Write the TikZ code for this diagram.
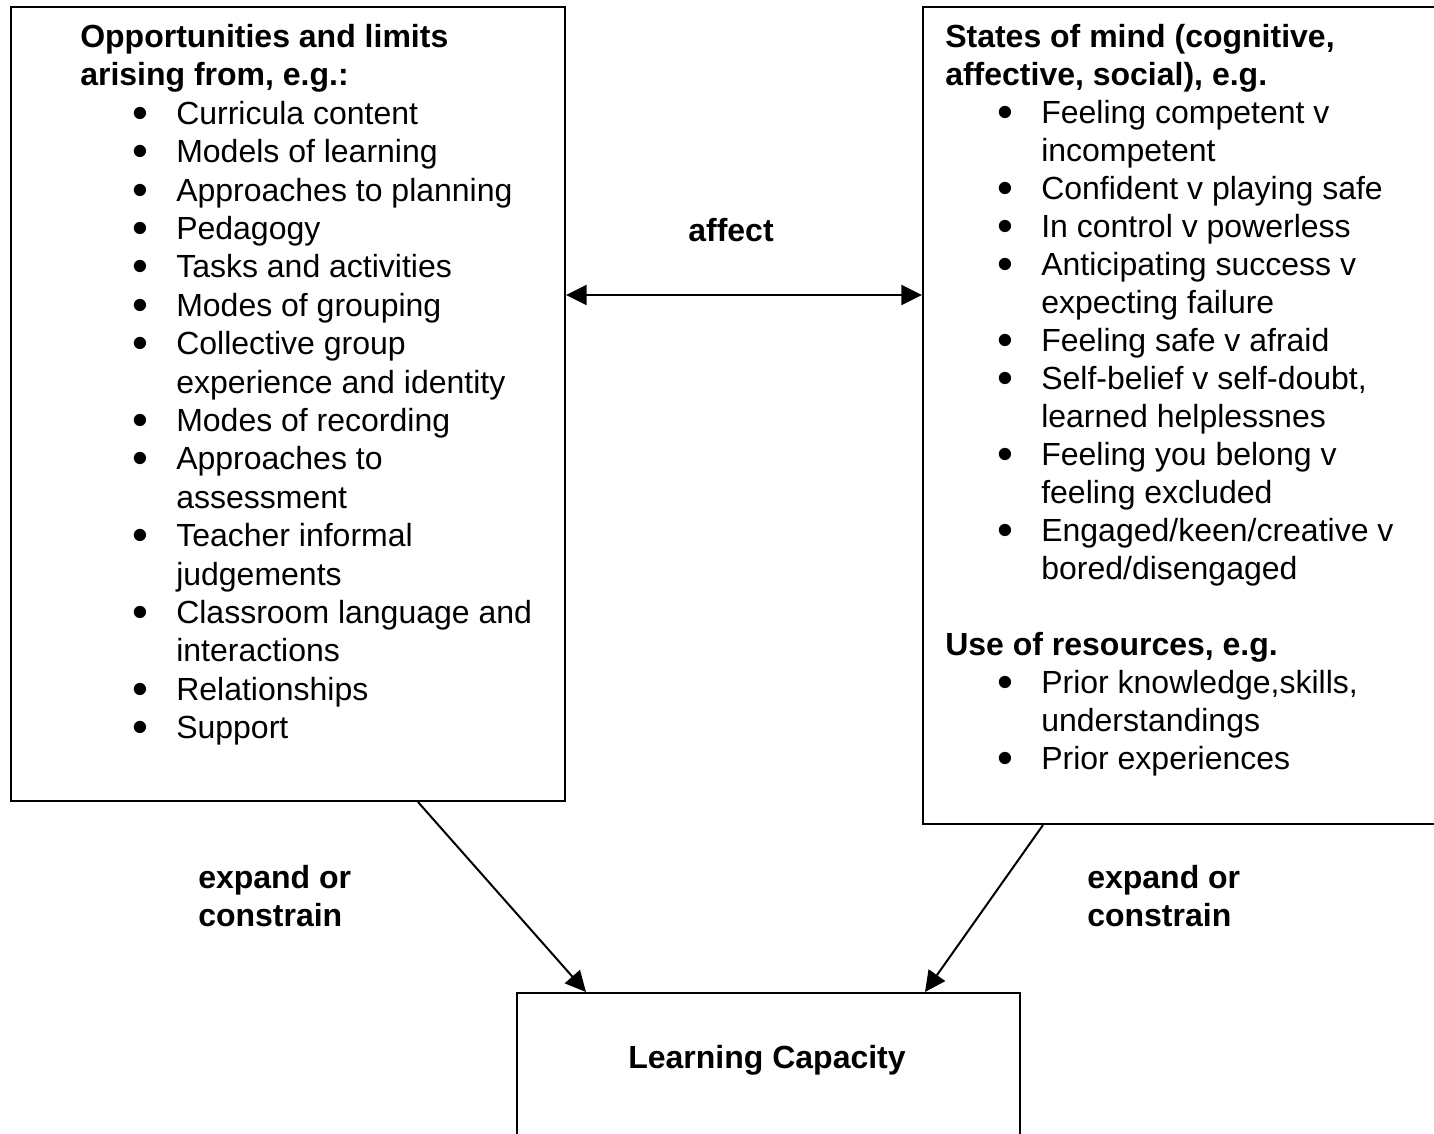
\documentclass[tikz,border=0pt]{standalone}
\usepackage{fontspec}
\setmainfont{Liberation Sans}
\usetikzlibrary{arrows.meta,calc}
\newcommand\bul{\smash{\raisebox{-3pt}{\fontsize{34pt}{34pt}\selectfont •}}}
\newcommand\itm[1]{\\\hspace*{39pt}\makebox[33pt][l]{\bul}#1}
\newcommand\cont[1]{\\\hspace*{72pt}#1}
\begin{document}
\begin{tikzpicture}[x=0.75pt,y=-0.75pt,
  every node/.style={font=\fontsize{24pt}{28.8pt}\selectfont},
  box/.style={draw, line width=1.5pt, inner sep=0pt, anchor=north west},
  txt/.style={anchor=base west, inner sep=0pt},
  lab/.style={font=\fontsize{24pt}{28.8pt}\selectfont\bfseries, inner sep=0pt},
  arr/.style={line width=1.5pt, -{Triangle[length=15.5pt,width=15pt]}},
  darr/.style={line width=1.5pt, {Triangle[length=15.5pt,width=15pt]}-{Triangle[length=15.5pt,width=15pt]}}]
\clip (0,0) rectangle (1434,1133);
\useasboundingbox (0,0) rectangle (1434,1133);
\fill[white] (0,0) rectangle (1434,1133);
% boxes
\node[box, minimum width=415.5pt, minimum height=595.5pt] (L) at (10,6) {};
\node[box, minimum width=396pt, minimum height=612.75pt] (R) at (922,6) {};
\node[box, minimum width=377.25pt, minimum height=118.5pt] (C) at (516,992) {};
% left text
\node[txt] (Ltext) at (80,47.5) {\parbox[t]{380pt}{\raggedright\fontsize{24pt}{28.8pt}\selectfont
\textbf{Opportunities and limits}\\
\textbf{arising from, e.g.:}%
\itm{Curricula content}%
\itm{Models of learning}%
\itm{Approaches to planning}%
\itm{Pedagogy}%
\itm{Tasks and activities}%
\itm{Modes of grouping}%
\itm{Collective group}%
\cont{experience and identity}%
\itm{Modes of recording}%
\itm{Approaches to}%
\cont{assessment}%
\itm{Teacher informal}%
\cont{judgements}%
\itm{Classroom language and}%
\cont{interactions}%
\itm{Relationships}%
\itm{Support}}};
% right text
\node[txt] (Rtext) at (945,47.5) {\parbox[t]{380pt}{\raggedright\fontsize{24pt}{28.5pt}\selectfont
\textbf{States of mind (cognitive,}\\
\textbf{affective, social), e.g.}%
\itm{Feeling competent v}%
\cont{incompetent}%
\itm{Confident v playing safe}%
\itm{In control v powerless}%
\itm{Anticipating success v}%
\cont{expecting failure}%
\itm{Feeling safe v afraid}%
\itm{Self-belief v self-doubt,}%
\cont{learned helplessnes}%
\itm{Feeling you belong v}%
\cont{feeling excluded}%
\itm{Engaged/keen/creative v}%
\cont{bored/disengaged}\\[28.5pt]
\textbf{Use of resources, e.g.}%
\itm{Prior knowledge,skills,}%
\cont{understandings}%
\itm{Prior experiences}}};
% labels
\node[lab] (aff) at (731,230) {affect};
\node[lab, align=left, anchor=west] (el) at (198,896) {expand or\\constrain};
\node[lab, align=left, anchor=west] (er) at (1087,896) {expand or\\constrain};
\node[lab] (lc) at (767,1060) {Learning Capacity};
% connectors
\draw[darr] ($(L.north east)+(0,289)$) -- ($(R.north west)+(0,289)$);
\draw[arr] ($(L.south west)+(408,0)$) -- ($(C.north west)+(70,0)$);
\draw[arr] ($(R.south west)+(121,0)$) -- ($(C.north west)+(409,0)$);
\end{tikzpicture}
\end{document}
